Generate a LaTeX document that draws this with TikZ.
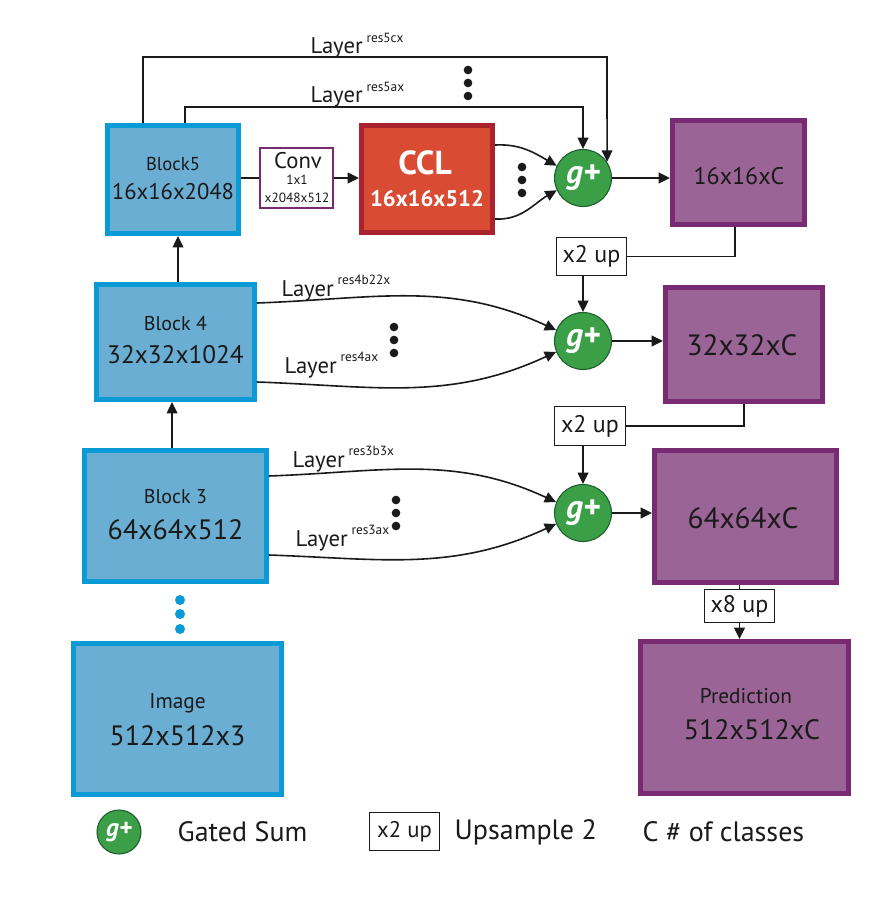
\documentclass[tikz,border=0pt]{standalone}
\usepackage{fontspec}
\setmainfont{PT Sans}
\usetikzlibrary{arrows.meta}

\definecolor{blkfill}{HTML}{6BAED3}
\definecolor{blkline}{HTML}{0A9BD6}
\definecolor{outfill}{HTML}{9B6496}
\definecolor{outline}{HTML}{782A72}
\definecolor{cclfill}{HTML}{D94B32}
\definecolor{cclline}{HTML}{A8232E}
\definecolor{gsfill}{HTML}{3A9F47}
\definecolor{gsline}{HTML}{1F5E2E}
\definecolor{ink}{HTML}{1A1A1A}

% layer name set as a small raised tag after "Layer"
\newcommand\lyrtag[1]{\,\raisebox{0.52em}{\fontsize{10}{10}\selectfont #1}}

\begin{document}
\begin{tikzpicture}[x=0.75pt,y=-0.75pt,
  fs/.style={font=\fontsize{#1}{#1}\selectfont, text=ink},
  fsw/.style={font=\fontsize{#1}{#1}\selectfont\bfseries, text=white},
  sz/.style 2 args={minimum width=#1*0.75pt, minimum height=#2*0.75pt},
  block/.style={draw=blkline, fill=blkfill, line width=3.75pt, inner sep=0pt},
  outbox/.style={draw=outline, fill=outfill, line width=3.75pt, inner sep=0pt},
  cclbox/.style={draw=cclline, fill=cclfill, line width=3.75pt, inner sep=0pt},
  convbox/.style={draw=outline, fill=white, line width=1.5pt, inner sep=0pt},
  upbox/.style={draw=ink, fill=white, line width=1.2pt, inner sep=0pt, text=ink,
                font=\fontsize{18}{18}\selectfont},
  gsum/.style={circle, draw=gsline, fill=gsfill, line width=0.8pt, inner sep=0pt,
               minimum size=57*0.75pt, text=white,
               font=\fontsize{25}{25}\selectfont\bfseries\itshape},
  conn/.style={draw=ink, line width=1.2pt},
  arr/.style={conn, -{Triangle[length=8.5pt,width=8pt]}},
  lbl/.style={anchor=base west, text=ink, font=\fontsize{17}{17}\selectfont},
  dot/.style={circle, fill=ink, inner sep=0pt, minimum size=6.5pt},
  bdot/.style={circle, fill=blkline, inner sep=0pt, minimum size=7.5pt},
]
\useasboundingbox (0,0) rectangle (890,906);

% ---- backbone blocks
\node[block, sz={131}{108}] (b5) at (173,179.5) {};
\node[fs=14] (b5a) at (173,164) {Block5};
\node[fs=17] (b5b) at (173,192) {16x16x2048};

\node[block, sz={158}{115}] (b4) at (175.5,342) {};
\node[fs=15] (b4a) at (175.5,324) {Block 4};
\node[fs=19] (b4b) at (175.5,355) {32x32x1024};

\node[block, sz={182}{131}] (b3) at (175.5,516) {};
\node[fs=15] (b3a) at (175.5,497) {Block 3};
\node[fs=21] (b3b) at (175.5,530) {64x64x512};

\node[block, sz={208}{151}] (img) at (177.5,719) {};
\node[fs=16] (imga) at (177.5,703) {Image};
\node[fs=21] (imgb) at (177.5,736) {512x512x3};

\node[bdot] (bd1) at (180,600) {};
\node[bdot] (bd2) at (180,614) {};
\node[bdot] (bd3) at (180,629) {};

% ---- conv and CCL
\node[convbox, sz={73}{60}] (conv) at (296.5,178) {};
\node[fs=17] (conva) at (298,161) {Conv};
\node[fs=10] (convb) at (297,180) {1x1};
\node[fs=10] (convc) at (297,198) {x2048x512};

\node[cclbox, sz={131}{107}] (ccl) at (427,179) {};
\node[fsw=25] (ccla) at (425,163) {CCL};
\node[fsw=17] (cclb) at (427,199) {16x16x512};

% ---- gated sums
\node[gsum] (g1) at (583,178) {g+};
\node[gsum] (g2) at (583,341) {g+};
\node[gsum] (g3) at (583,513) {g+};

% ---- score maps
\node[outbox, sz={132}{104}] (o16) at (738.5,172.5) {};
\node[fs=18] (o16t) at (739,176) {16x16xC};
\node[outbox, sz={157}{114}] (o32) at (744,344.5) {};
\node[fs=22] (o32t) at (742,345) {32x32xC};
\node[outbox, sz={182}{132}] (o64) at (745.5,516.5) {};
\node[fs=22] (o64t) at (743,518) {64x64xC};
\node[outbox, sz={208}{152}] (pred) at (744.5,717.5) {};
\node[fs=16] (preda) at (746,696) {Prediction};
\node[fs=21] (predb) at (752,730) {512x512xC};

% ---- upsampling boxes
\node[upbox, sz={70}{38}] (u1) at (591.5,256.5) {x2 up};
\node[upbox, sz={71}{39}] (u2) at (590,426) {x2 up};
\node[upbox, sz={70}{33}] (u8) at (739.5,606) {x8 up};

% ---- layer taps from Block5
\coordinate (r5c) at (607,57);
\coordinate (r5a) at (583,107);
\draw[arr] ([xshift=-22.5pt]b5.north) |- (r5c) -- (g1.34);
\draw[arr] ([xshift=9pt]b5.north) |- (r5a) -- (g1.north);
\node[lbl] (l5c) at (306,54) {Layer\lyrtag{res5cx}};
\node[lbl] (l5a) at (306,103) {Layer\lyrtag{res5ax}};
\node[dot] (d5a) at (468,70) {};
\node[dot] (d5b) at (468,83) {};
\node[dot] (d5c) at (468,96) {};

% ---- Block5 -> conv -> CCL -> g+
\draw[conn] (b5.east |- conv.west) -- (conv.west);
\draw[arr] (conv.east) -- (ccl.west |- conv.east);
\draw[arr] ([yshift=25.5pt]ccl.east) to[out=3,in=150] (g1.155);
\draw[arr] ([yshift=-30pt]ccl.east) to[out=-3,in=210] (g1.205);
\node[dot] (dca) at (522,167) {};
\node[dot] (dcb) at (522,180) {};
\node[dot] (dcc) at (522,193) {};

% ---- Block4 taps
\draw[arr] ([yshift=29.25pt]b4.east) to[out=2,in=155] (g2.158);
\draw[arr] ([yshift=-30pt]b4.east) to[out=-2,in=205] (g2.202);
\node[lbl] (l4a) at (277,296) {Layer\lyrtag{res4b22x}};
\node[lbl] (l4b) at (280,373) {Layer\lyrtag{res4ax}};
\node[dot] (d4a) at (394,327) {};
\node[dot] (d4b) at (394,340) {};
\node[dot] (d4c) at (394,353) {};

% ---- Block3 taps
\draw[arr] ([yshift=30pt]b3.east) to[out=2,in=155] (g3.158);
\draw[arr] ([yshift=-29.25pt]b3.east) to[out=-2,in=205] (g3.202);
\node[lbl] (l3a) at (288,467) {Layer\lyrtag{res3b3x}};
\node[lbl] (l3b) at (291,546) {Layer\lyrtag{res3ax}};
\node[dot] (d3a) at (396,500) {};
\node[dot] (d3b) at (396,513) {};
\node[dot] (d3c) at (396,526) {};

% ---- backbone arrows
\draw[arr] ([xshift=1.9pt]b4.north) -- ([xshift=1.9pt]b4.north |- b5.south);
\draw[arr] ([xshift=-2.6pt]b3.north) -- ([xshift=-2.6pt]b3.north |- b4.south);

% ---- decoder path
\draw[arr] (g1.east) -- (o16.west |- g1.east);
\draw[conn] ([xshift=-2.6pt]o16.south) |- (u1.east);
\draw[arr] (u1.south -| g2) -- (g2.north);
\draw[arr] (g2.east) -- (o32.west |- g2.east);
\draw[conn] (o32.south) |- (u2.east);
\draw[arr] (u2.south -| g3) -- (g3.north);
\draw[arr] (g3.east) -- (o64.west |- g3.east);
\draw[conn] (o64.south -| u8) -- (u8.north);
\draw[arr] (u8.south) -- (u8.south |- pred.north);

% ---- legend
\node[gsum, minimum size=44*0.75pt, font=\fontsize{19}{19}\selectfont\bfseries\itshape] (lg) at (119,832) {g+};
\node[fs=21, anchor=west] (lgt) at (173,832) {Gated Sum};
\node[upbox, sz={70}{38}, font=\fontsize{17}{17}\selectfont] (lu) at (404.5,831.5) {x2 up};
\node[fs=21, anchor=west] (lut) at (450,832) {Upsample 2};
\node[fs=21, anchor=west] (lct) at (638,832) {C \# of classes};
\end{tikzpicture}
\end{document}
